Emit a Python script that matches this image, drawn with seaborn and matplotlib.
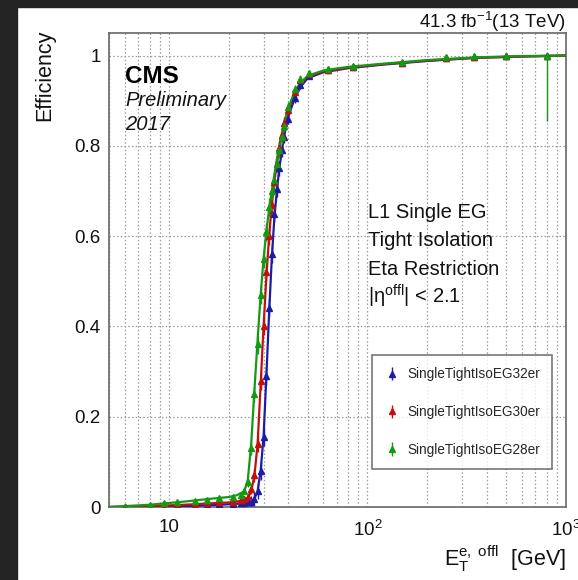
import numpy as np
import pandas as pd
import matplotlib
matplotlib.use('Agg')
import matplotlib.pyplot as plt
import matplotlib.ticker as mticker
from matplotlib.patches import Rectangle
import seaborn as sns

# data points (offline E_T in GeV, efficiency)
pt_x = [6, 8, 9.5, 11, 13.5, 15.5, 18, 21, 23, 24, 25, 26, 27, 28, 29, 30, 31, 32, 33, 34,
        35, 36, 37, 38, 40, 43, 46, 51, 63, 85, 150, 250, 345, 500, 800]
eff_28 = [0.0, 0.005, 0.008, 0.01, 0.014, 0.016, 0.02, 0.022, 0.027, 0.035, 0.055, 0.13, 0.25,
          0.36, 0.47, 0.55, 0.61, 0.665, 0.70, 0.725, 0.76, 0.79, 0.82, 0.845, 0.885, 0.925,
          0.948, 0.962, 0.971, 0.976, 0.985, 0.996, 0.998, 1.0, 1.0]
eff_30 = [0.0, 0.0, 0.002, 0.004, 0.006, 0.008, 0.01, 0.012, 0.015, 0.018, 0.022, 0.04, 0.07,
          0.14, 0.28, 0.40, 0.52, 0.60, 0.67, 0.72, 0.76, 0.795, 0.825, 0.85, 0.88, 0.92,
          0.945, 0.96, 0.969, 0.975, 0.984, 0.995, 0.997, 0.999, 1.0]
eff_32 = [0.0, 0.0, 0.0, 0.002, 0.003, 0.004, 0.006, 0.007, 0.008, 0.009, 0.01, 0.012, 0.018,
          0.035, 0.08, 0.155, 0.29, 0.44, 0.56, 0.65, 0.705, 0.75, 0.79, 0.82, 0.86, 0.905,
          0.935, 0.955, 0.968, 0.974, 0.983, 0.995, 0.997, 0.999, 1.0]
# lower error of the green points (only the last one is large)
err_28_lo = [0.002, 0.003, 0.003, 0.004, 0.004, 0.004, 0.005, 0.005, 0.006, 0.007, 0.01, 0.015,
             0.018, 0.02, 0.02, 0.02, 0.02, 0.02, 0.02, 0.02, 0.018, 0.018, 0.016, 0.015, 0.012,
             0.01, 0.008, 0.006, 0.005, 0.004, 0.004, 0.003, 0.004, 0.006, 0.145]
err_pt = [0.002, 0.002, 0.002, 0.003, 0.003, 0.003, 0.004, 0.004, 0.005, 0.006, 0.008, 0.012,
          0.015, 0.018, 0.02, 0.02, 0.02, 0.02, 0.02, 0.018, 0.018, 0.016, 0.015, 0.014, 0.012,
          0.01, 0.008, 0.006, 0.005, 0.004, 0.004, 0.003, 0.003, 0.004, 0.005]

# fitted turn-on curves
fit_x = [5, 8, 12, 16, 20, 22, 24, 25, 26, 27, 28, 29, 30, 31, 32, 33, 34, 35, 36, 38, 40, 43,
         46, 50, 60, 80, 120, 200, 350, 600, 1000]
fit_28 = [0.0, 0.005, 0.012, 0.018, 0.022, 0.026, 0.035, 0.06, 0.14, 0.26, 0.37, 0.47, 0.55,
          0.61, 0.66, 0.70, 0.735, 0.77, 0.80, 0.85, 0.885, 0.92, 0.94, 0.955, 0.967, 0.975,
          0.982, 0.99, 0.996, 0.999, 1.0]
fit_30 = [0.0, 0.002, 0.005, 0.008, 0.01, 0.012, 0.015, 0.02, 0.035, 0.07, 0.14, 0.27, 0.40,
          0.51, 0.60, 0.67, 0.72, 0.76, 0.795, 0.845, 0.88, 0.915, 0.937, 0.953, 0.965, 0.973,
          0.981, 0.989, 0.995, 0.998, 1.0]
fit_32 = [0.0, 0.0, 0.002, 0.004, 0.006, 0.007, 0.009, 0.01, 0.012, 0.018, 0.035, 0.08, 0.155,
          0.29, 0.43, 0.55, 0.64, 0.70, 0.75, 0.82, 0.865, 0.905, 0.93, 0.95, 0.963, 0.972,
          0.98, 0.988, 0.995, 0.998, 1.0]

labels = ['SingleTightIsoEG32er', 'SingleTightIsoEG30er', 'SingleTightIsoEG28er']
colors = ['#1c1ca6', '#c21010', '#139a13']

sns.set_theme(style='white')
plt.rcParams['font.family'] = ['Liberation Sans', 'DejaVu Sans']
plt.rcParams['mathtext.fontset'] = 'custom'
plt.rcParams['mathtext.rm'] = 'Liberation Sans'
plt.rcParams['mathtext.it'] = 'Liberation Sans:italic'

fig = plt.figure(figsize=(5.78, 5.80), dpi=100)
fig.patch.set_facecolor('white')
ax = fig.add_axes([109 / 578, 1 - 507 / 580, 457 / 578, 474 / 580])

fits = pd.DataFrame({'x': fit_x * 3, 'eff': fit_32 + fit_30 + fit_28,
                     'trig': [labels[0]] * len(fit_x) + [labels[1]] * len(fit_x) + [labels[2]] * len(fit_x)})

handles = []
for lab, col, eff, lo in zip(labels, colors, [eff_32, eff_30, eff_28], [err_pt, err_pt, err_28_lo]):
    sns.lineplot(data=fits[fits.trig == lab], x='x', y='eff', color=col, lw=1.6,
                 ax=ax, legend=False, zorder=3)
    h = ax.errorbar(pt_x, eff, yerr=[lo, err_pt], fmt='^', ls='none', color=col, ms=4.5,
                    elinewidth=1.0, capsize=0, zorder=4, label=lab)
    handles.append(h)

ax.set_xscale('log')
ax.set_xlim(5, 1000)
ax.set_ylim(0, 1.05)

ax.xaxis.set_major_locator(mticker.LogLocator(base=10))
ax.xaxis.set_minor_locator(mticker.LogLocator(base=10, subs=np.arange(2, 10)))
ax.xaxis.set_minor_formatter(mticker.NullFormatter())
ax.xaxis.set_major_formatter(mticker.FuncFormatter(
    lambda v, p: '10' if abs(v - 10) < 1e-6 else r'$10^{%d}$' % round(np.log10(v))))
ax.yaxis.set_major_locator(mticker.MultipleLocator(0.2))
ax.yaxis.set_minor_locator(mticker.MultipleLocator(0.05))
ax.yaxis.set_major_formatter(mticker.FuncFormatter(lambda v, p: '%g' % round(v, 2)))

ax.tick_params(axis='both', which='major', direction='in', length=10, width=1,
               color='#555555', labelsize=13.5, labelcolor='#111111', pad=6)
ax.tick_params(axis='both', which='minor', direction='in', length=5, width=1, color='#555555')
ax.tick_params(axis='x', which='major', pad=9)

ax.grid(True, which='major', axis='both', color='#9a9a9a', lw=0.9, ls=(0, (1.2, 1.8)))
ax.grid(True, which='minor', axis='x', color='#9a9a9a', lw=0.9, ls=(0, (1.2, 1.8)))
for s in ax.spines.values():
    s.set_color('#666666')
    s.set_linewidth(1.2)
ax.set_xlabel('')
ax.set_ylabel('')

fig.text(125 / 578, 1 - 83 / 580, 'CMS', fontsize=17.5, fontweight='bold', color='black')
fig.text(125 / 578, 1 - 106 / 580, 'Preliminary', fontsize=14.5, style='italic', color='#111111')
fig.text(125 / 578, 1 - 130 / 580, '2017', fontsize=14.5, style='italic', color='#111111')

block = ['L1 Single EG', 'Tight Isolation', 'Eta Restriction', r'|η$^{\mathrm{offl}}$| < 2.1']
for i, t in enumerate(block):
    fig.text(368 / 578, 1 - (218 + 28.5 * i) / 580, t, fontsize=14.5, color='#111111')

fig.text(566 / 578, 1 - 28 / 580, r'41.3 fb$^{-1}$(13 TeV)', fontsize=13.5, ha='right',
         color='#111111')
fig.text(45 / 578, 1 - 30 / 580, 'Efficiency', fontsize=15.5, rotation=90, ha='center',
         va='top', color='#111111')
fig.text(566 / 578, 1 - 566 / 580, r'$\mathrm{E}_{\mathrm{T}}^{\mathrm{e,\ offl}}$  [GeV]',
         fontsize=15.5, ha='right', color='#111111')

leg = ax.legend(handles=handles, labels=labels, loc='upper left', bbox_to_anchor=(0.56, 0.335),
                fontsize=9.8, frameon=True, fancybox=False, edgecolor='#555555',
                labelspacing=1.75, handlelength=1.2, handletextpad=0.5, borderpad=0.9)
leg.get_frame().set_linewidth(1.2)

# dark border strips from the screenshot
fig.add_artist(Rectangle((0, 0), 17 / 578, 1, transform=fig.transFigure, color='#232323', zorder=10))
fig.add_artist(Rectangle((0, 1 - 7 / 580), 1, 7 / 580, transform=fig.transFigure, color='#232323', zorder=10))

fig.savefig('out.png', dpi=100, facecolor='white')
